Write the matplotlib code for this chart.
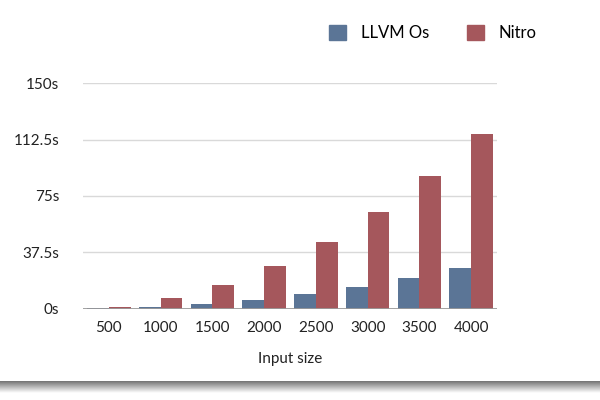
import numpy as np
import matplotlib.pyplot as plt
import matplotlib.patches as mpatches

plt.rcParams['font.family'] = ['Lato', 'DejaVu Sans']

# data
sizes = ['500', '1000', '1500', '2000', '2500', '3000', '3500', '4000']
llvm_os = [0.3, 1.3, 3.3, 6.0, 10.0, 14.4, 20.5, 26.8]
nitro = [1.3, 7.1, 15.8, 28.2, 44.7, 64.4, 88.2, 116.2]
yticks = [0, 37.5, 75, 112.5, 150]
ytick_labels = ['0s', '37.5s', '75s', '112.5s', '150s']

blue = '#5b7596'
red = '#a5575c'

fig = plt.figure(figsize=(6, 4), dpi=100)
ax = fig.add_axes([83 / 600, 1 - 308.7 / 400, 414 / 600, 225.4 / 400])

x = np.arange(len(sizes))
w = 0.42
ax.bar(x - w / 2, llvm_os, w, color=blue, zorder=3, label='LLVM Os')
ax.bar(x + w / 2, nitro, w, color=red, zorder=3, label='Nitro')

ax.set_xlim(-0.5, len(sizes) - 0.5)
ax.set_ylim(0, 150)
ax.set_yticks(yticks)
ax.set_yticklabels(ytick_labels)
ax.set_xticks(x)
ax.set_xticklabels(sizes)
ax.tick_params(length=0, labelsize=11, colors='#222222')
ax.tick_params(axis='y', pad=17)
ax.tick_params(axis='x', pad=9)
ax.grid(axis='y', color='#d9d9d9', lw=1, zorder=0)
ax.axhline(0, color='#9a9a9a', lw=2, zorder=4)
for s in ax.spines.values():
    s.set_visible(False)
ax.set_xlabel('Input size', fontsize=11, color='#222222', labelpad=12)

fig.legend(handles=[mpatches.Patch(color=blue, label='LLVM Os'),
                    mpatches.Patch(color=red, label='Nitro')],
           loc='center', bbox_to_anchor=(433 / 600, 1 - 33 / 400), ncol=2,
           frameon=False, fontsize=12, handlelength=1.0, handleheight=1.0,
           handletextpad=0.9, columnspacing=2.3)

# gray shadow band at the bottom of the picture
band = fig.add_axes([0, 1 - 393 / 400, 1, 12 / 400])
grad = np.linspace(0.45, 1.0, 50)[:, None]
band.imshow(grad, cmap='gray', vmin=0, vmax=1, aspect='auto',
            extent=[0, 1, 0, 1], origin='upper')
band.axis('off')

fig.savefig('out.png', dpi=100)
